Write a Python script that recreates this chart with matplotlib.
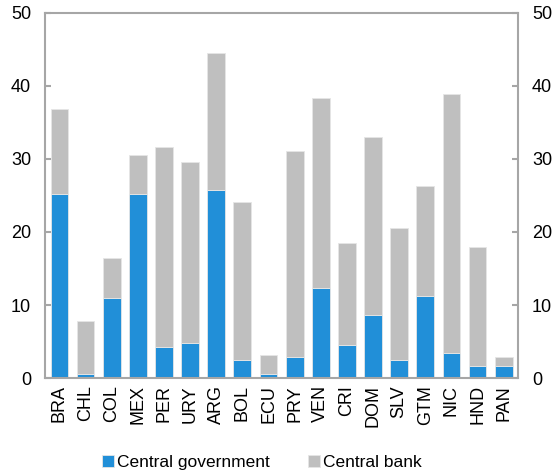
import numpy as np
import matplotlib.pyplot as plt
import matplotlib as mpl

mpl.rcParams['font.family'] = ['Liberation Sans', 'DejaVu Sans']

countries = ['BRA', 'CHL', 'COL', 'MEX', 'PER', 'URY', 'ARG', 'BOL', 'ECU',
             'PRY', 'VEN', 'CRI', 'DOM', 'SLV', 'GTM', 'NIC', 'HND', 'PAN']
gov = [25.2, 0.55, 11.0, 25.2, 4.2, 4.75, 25.7, 2.5, 0.55,
       2.85, 12.3, 4.5, 8.7, 2.5, 11.2, 3.4, 1.7, 1.7]
total = [36.9, 7.85, 16.5, 30.5, 31.6, 29.6, 44.5, 24.1, 3.1,
         31.05, 38.4, 18.5, 33.0, 20.5, 26.3, 38.9, 17.9, 2.85]
bank = [t - g for t, g in zip(total, gov)]

blue = '#218fd8'
grey = '#bfbfbf'
spine = '#a6a6a6'

fig = plt.figure(figsize=(5.57, 4.75), dpi=100)
ax = fig.add_axes([0.081, 0.204, 0.849, 0.769])

x = np.arange(len(countries))
ax.bar(x, gov, width=0.68, color=blue, edgecolor='#e6e6e6', linewidth=0.6,
       label='Central government')
ax.bar(x, bank, bottom=gov, width=0.68, color=grey, edgecolor='#e6e6e6',
       linewidth=0.6, label='Central bank')

ax.set_xlim(-0.55, len(countries) - 0.45)
ax.set_ylim(0, 50)
ax.set_yticks(range(0, 51, 10))
ax.set_xticks(x)
ax.set_xticklabels(countries, rotation=90, fontsize=13)
ax.tick_params(axis='x', length=0, pad=5)
ax.tick_params(axis='y', direction='in', length=4, width=1.5, color=spine,
               labelsize=13, left=True, right=True, labelleft=True,
               labelright=True, pad=10)
for s in ax.spines.values():
    s.set_color(spine)
    s.set_linewidth(1.5)

fig.legend(loc='center', bbox_to_anchor=(0.47, 0.027), ncol=2, frameon=False,
           fontsize=12.5, handlelength=0.7, handleheight=0.7, handletextpad=0.15,
           columnspacing=2.2, borderpad=0)

fig.savefig('out.png', dpi=100)
